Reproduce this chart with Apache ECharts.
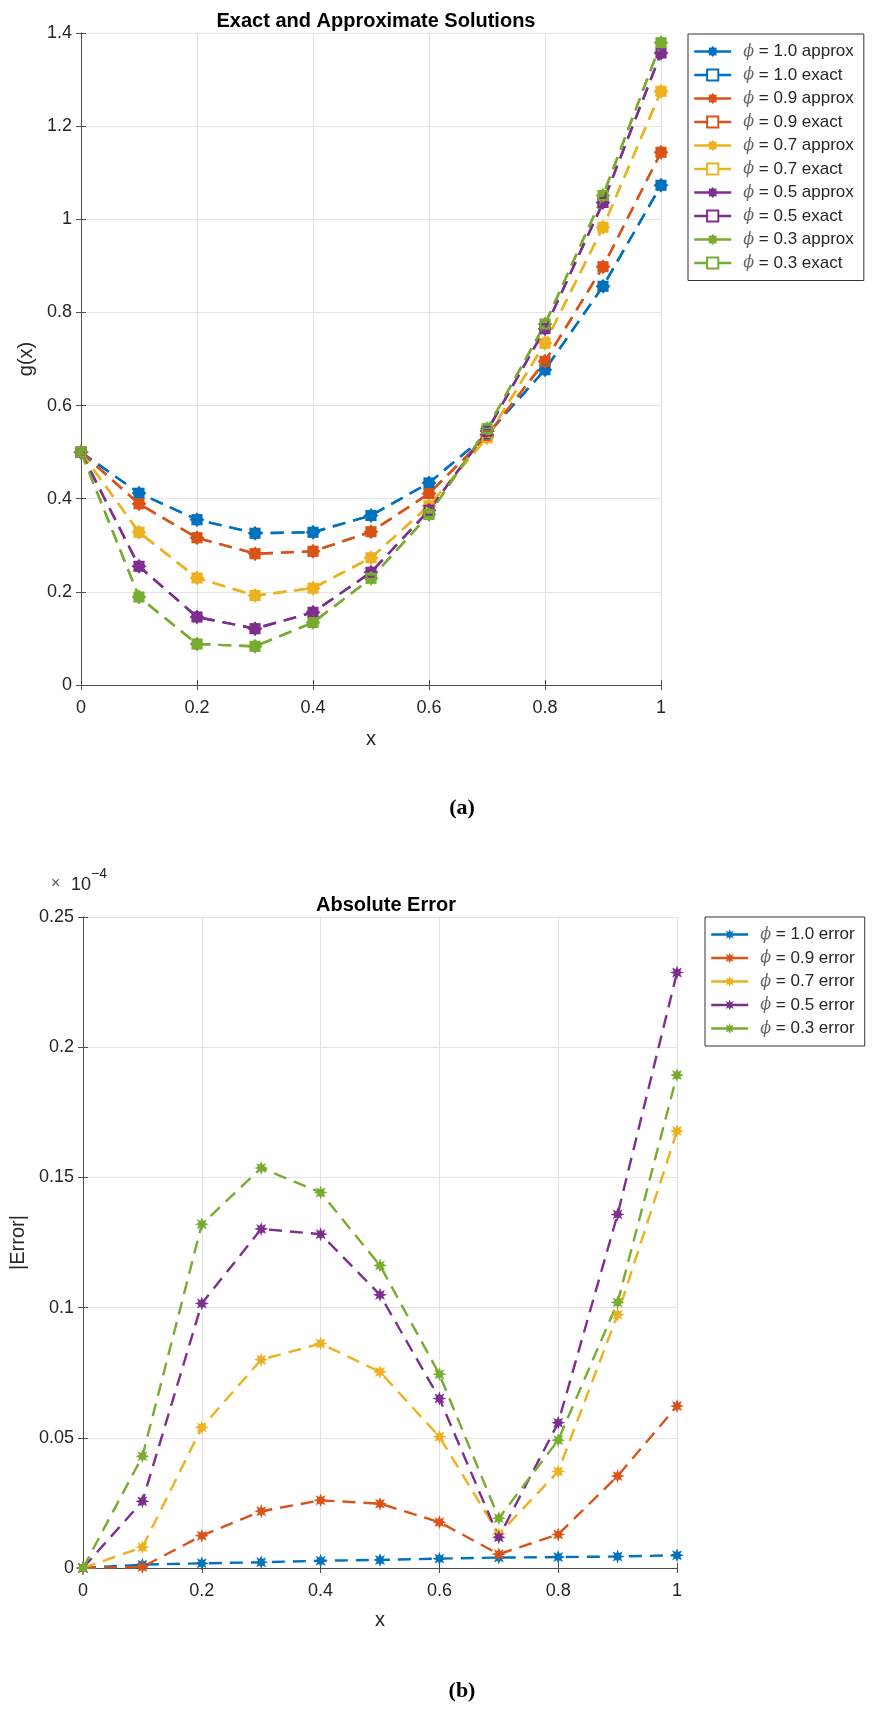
<!DOCTYPE html>
<html><head><meta charset="utf-8">
<script src="https://cdn.jsdelivr.net/npm/echarts@6/dist/echarts.min.js"></script>
<style>html,body{margin:0;padding:0;background:#fff}#c{width:875px;height:1709px}</style>
</head><body><div id="c"></div>
<script>
// ---------- data ----------
const xValues = [0, 0.1, 0.2, 0.3, 0.4, 0.5, 0.6, 0.7, 0.8, 0.9, 1.0];
const phiLabels = ['1.0', '0.9', '0.7', '0.5', '0.3'];

// g(x), approximate solutions
const approx10 = [0.5, 0.412, 0.355, 0.326, 0.328, 0.364, 0.434, 0.538, 0.677, 0.856, 1.073];
const approx09 = [0.5, 0.389, 0.316, 0.282, 0.287, 0.329, 0.411, 0.535, 0.695, 0.898, 1.144];
const approx07 = [0.5, 0.328, 0.230, 0.192, 0.208, 0.273, 0.385, 0.531, 0.734, 0.983, 1.275];
const approx05 = [0.5, 0.255, 0.146, 0.121, 0.156, 0.242, 0.375, 0.545, 0.765, 1.036, 1.357];
const approx03 = [0.5, 0.189, 0.088, 0.083, 0.134, 0.229, 0.366, 0.550, 0.775, 1.051, 1.379];
// g(x), exact solutions (visually identical to the approximations)
const exact10 = [0.5, 0.412, 0.355, 0.326, 0.328, 0.364, 0.434, 0.538, 0.677, 0.856, 1.073];
const exact09 = [0.5, 0.389, 0.316, 0.282, 0.287, 0.329, 0.411, 0.535, 0.695, 0.898, 1.144];
const exact07 = [0.5, 0.328, 0.230, 0.192, 0.208, 0.273, 0.385, 0.531, 0.734, 0.983, 1.275];
const exact05 = [0.5, 0.255, 0.146, 0.121, 0.156, 0.242, 0.375, 0.545, 0.765, 1.036, 1.357];
const exact03 = [0.5, 0.189, 0.088, 0.083, 0.134, 0.229, 0.366, 0.550, 0.775, 1.051, 1.379];

// absolute error, in units of 1e-4
const err10 = [0, 0.0013, 0.0018, 0.0022, 0.0028, 0.0031, 0.0036, 0.0040, 0.0042, 0.0044, 0.0049];
const err09 = [0, 0.0004, 0.0124, 0.0218, 0.0260, 0.0247, 0.0176, 0.0053, 0.0129, 0.0353, 0.0622];
const err07 = [0, 0.0080, 0.0540, 0.0800, 0.0862, 0.0753, 0.0504, 0.0130, 0.0371, 0.0973, 0.1678];
const err05 = [0, 0.0256, 0.1016, 0.1302, 0.1282, 0.1049, 0.0651, 0.0118, 0.0558, 0.1358, 0.2287];
const err03 = [0, 0.0429, 0.1320, 0.1536, 0.1442, 0.1162, 0.0744, 0.0191, 0.0491, 0.1020, 0.1893];

const approxSets = [approx10, approx09, approx07, approx05, approx03];
const exactSets = [exact10, exact09, exact07, exact05, exact03];
const errSets = [err10, err09, err07, err05, err03];

// ---------- style ----------
const colors = ['#0072BD', '#D95319', '#EDB120', '#7E2F8E', '#77AC30'];
const FONT = 'Liberation Sans, Arial, sans-serif';
const AX = '#4d4d4d';
const TXT = '#262626';
const dash = [13, 8];
const LW = 2.4;

function starPath(inner) {
  let d = '';
  const n = 8;
  for (let k = 0; k < 2 * n; k++) {
    const r = (k % 2 === 0) ? 1 : inner;
    const a = Math.PI * k / n - Math.PI / 2;
    const px = (1 + r * Math.cos(a)) * 10;
    const py = (1 + r * Math.sin(a)) * 10;
    d += (k === 0 ? 'M' : 'L') + px.toFixed(2) + ' ' + py.toFixed(2) + ' ';
  }
  return 'path://' + d + 'Z';
}
const BLOB = starPath(0.72);
const STAR = starPath(0.5);

function pairs(ys) { return xValues.map((x, i) => [x, ys[i]]); }

const series = [];
const legendTop = [];
const legendBottom = [];
for (let i = 0; i < 5; i++) {
  const nA = 'ϕ = ' + phiLabels[i] + ' approx';
  const nE = 'ϕ = ' + phiLabels[i] + ' exact';
  legendTop.push({ name: nA });
  legendTop.push({ name: nE, itemStyle: { color: '#fff', borderColor: colors[i], borderWidth: 2 } });
  series.push({
    name: nA, type: 'line', xAxisIndex: 0, yAxisIndex: 0,
    data: pairs(approxSets[i]), symbol: BLOB, symbolSize: 15, z: 3,
    lineStyle: { color: colors[i], width: LW, type: dash },
    itemStyle: { color: colors[i] }
  });
  series.push({
    name: nE, type: 'line', xAxisIndex: 0, yAxisIndex: 0,
    data: pairs(exactSets[i]), symbol: 'rect', symbolSize: 9, z: 4,
    lineStyle: { color: colors[i], width: LW, type: dash },
    itemStyle: { color: 'rgba(255,255,255,0)', borderColor: colors[i], borderWidth: 2 }
  });
}
for (let i = 0; i < 5; i++) {
  const n = 'ϕ = ' + phiLabels[i] + ' error';
  legendBottom.push({ name: n });
  series.push({
    name: n, type: 'line', xAxisIndex: 2, yAxisIndex: 2,
    data: pairs(errSets[i]), symbol: STAR, symbolSize: 14,
    lineStyle: { color: colors[i], width: LW, type: dash },
    itemStyle: { color: colors[i] }
  });
}

function xAxisMain(grid, nameGap) {
  return {
    type: 'value', gridIndex: grid, min: 0, max: 1, interval: 0.2,
    name: 'x', nameLocation: 'middle', nameGap: nameGap,
    nameTextStyle: { fontFamily: FONT, fontSize: 20, color: TXT },
    axisLine: { show: true, lineStyle: { color: AX, width: 1 } },
    axisTick: { show: true, inside: true, length: 5, lineStyle: { color: AX } },
    axisLabel: { fontFamily: FONT, fontSize: 18, color: TXT, margin: 14 },
    splitLine: { show: true, lineStyle: { color: '#e3e3e3', width: 1 } }
  };
}
function xAxisMirror(grid) {
  return {
    type: 'value', gridIndex: grid, min: 0, max: 1, interval: 0.2, position: 'top',
    axisLine: { show: true, lineStyle: { color: AX, width: 1 } },
    axisTick: { show: true, inside: true, length: 5, lineStyle: { color: AX } },
    axisLabel: { show: false }, splitLine: { show: false }
  };
}
function yAxisMain(grid, max, interval, name, nameGap) {
  return {
    type: 'value', gridIndex: grid, min: 0, max: max, interval: interval,
    name: name, nameLocation: 'middle', nameGap: nameGap,
    nameTextStyle: { fontFamily: FONT, fontSize: 20, color: TXT },
    axisLine: { show: true, lineStyle: { color: AX, width: 1 } },
    axisTick: { show: true, inside: true, length: 5, lineStyle: { color: AX } },
    axisLabel: { fontFamily: FONT, fontSize: 18, color: TXT, margin: 9 },
    splitLine: { show: true, lineStyle: { color: '#e3e3e3', width: 1 } }
  };
}
function yAxisMirror(grid, max, interval) {
  return {
    type: 'value', gridIndex: grid, min: 0, max: max, interval: interval, position: 'right',
    axisLine: { show: true, lineStyle: { color: AX, width: 1 } },
    axisTick: { show: true, inside: true, length: 5, lineStyle: { color: AX } },
    axisLabel: { show: false }, splitLine: { show: false }
  };
}

const legendRich = {
  p: { fontFamily: 'DejaVu Serif, serif', fontStyle: 'italic', fontSize: 16, color: '#666', lineHeight: 14 }
};
function legendFmt(name) { return name.replace('ϕ', '{p|ϕ}'); }

function legendBox(data, left, top) {
  return {
    data: data, orient: 'vertical', left: left, top: top,
    itemWidth: 37, itemHeight: 14, itemGap: 6.5, padding: [9, 10, 9, 5],
    borderColor: '#333', borderWidth: 1, backgroundColor: '#fff',
    lineStyle: { type: 'solid', width: LW },
    formatter: legendFmt,
    textStyle: { fontFamily: FONT, fontSize: 17, lineHeight: 14, color: TXT, padding: [0, 0, 0, 7], rich: legendRich }
  };
}

const option = {
  backgroundColor: '#fff',
  animation: false,
  title: [
    { text: 'Exact and Approximate Solutions', left: 371, top: 6, textAlign: 'center',
      textStyle: { fontFamily: FONT, fontSize: 20, fontWeight: 'bold', color: '#000' } },
    { text: 'Absolute Error', left: 381, top: 890, textAlign: 'center',
      textStyle: { fontFamily: FONT, fontSize: 20, fontWeight: 'bold', color: '#000' } },
    { text: '(a)', left: 457, top: 792, textAlign: 'center',
      textStyle: { fontFamily: 'Liberation Serif, serif', fontSize: 22, fontWeight: 'bold', color: '#000' } },
    { text: '(b)', left: 457, top: 1675, textAlign: 'center',
      textStyle: { fontFamily: 'Liberation Serif, serif', fontSize: 22, fontWeight: 'bold', color: '#000' } }
  ],
  graphic: [
    { type: 'text', left: 51, top: 876, style: { text: '×', font: '16px ' + FONT, fill: '#555' } },
    { type: 'text', left: 71, top: 876, style: { text: '10', font: '18px ' + FONT, fill: TXT } },
    { type: 'text', left: 91, top: 867, style: { text: '−4', font: '14px ' + FONT, fill: TXT } }
  ],
  grid: [
    { left: 81, top: 33, width: 580, height: 652, show: false },
    { left: 83, top: 917, width: 594, height: 651, show: false }
  ],
  xAxis: [xAxisMain(0, 44), xAxisMirror(0), xAxisMain(1, 42), xAxisMirror(1)],
  yAxis: [
    yAxisMain(0, 1.4, 0.2, 'g(x)', 42), yAxisMirror(0, 1.4, 0.2),
    yAxisMain(1, 0.25, 0.05, '|Error|', 50), yAxisMirror(1, 0.25, 0.05)
  ],
  legend: [legendBox(legendTop, 688, 34), legendBox(legendBottom, 705, 917)],
  series: series
};

const chart = echarts.init(document.getElementById('c'), null, { renderer: 'canvas' });
chart.setOption(option);
</script>
</body></html>
